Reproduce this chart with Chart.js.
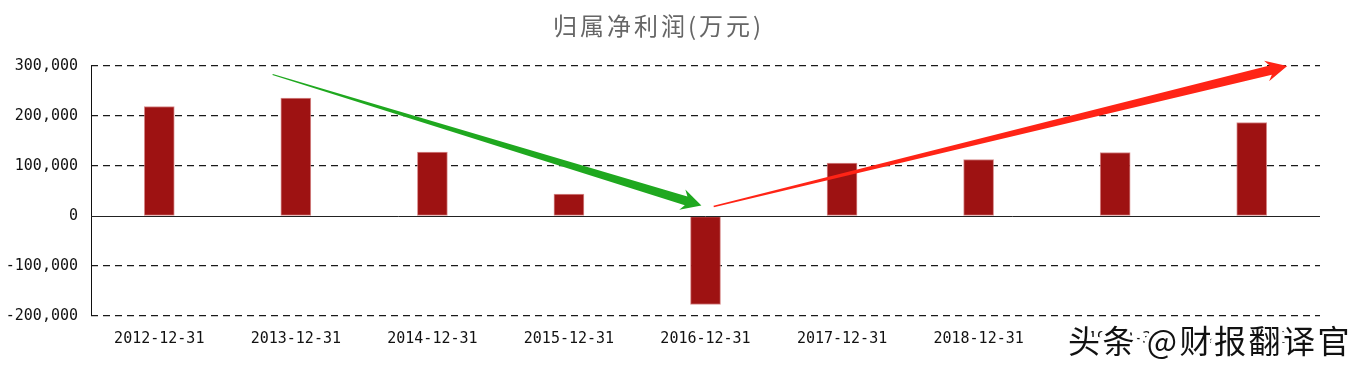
<!DOCTYPE html>
<html>
<head>
<meta charset="utf-8">
<script src="https://cdn.jsdelivr.net/npm/chart.js@4/dist/chart.umd.min.js"></script>
<style>
  html, body { margin: 0; padding: 0; background: #ffffff; }
  #wrap { position: relative; width: 1367px; height: 371px; }
</style>
</head>
<body>
<div id="wrap"><canvas id="c" width="1367" height="371"></canvas></div>
<script>
// ---- data ----
const titleText = '归属净利润(万元)';
const categories = ['2012-12-31', '2013-12-31', '2014-12-31', '2015-12-31', '2016-12-31',
                    '2017-12-31', '2018-12-31', '2019-12-31', '2020-12-31'];
const netProfit = [219000, 236000, 128000, 44000, -177000, 106000, 113000, 127000, 187000];
const yMin = -200000;
const yMax = 300000;
const yStep = 100000;
// trend arrows, in data coordinates: [category index, value]
const greenArrow = [[0.83, 283000], [3.97, 21000]];
const redArrow = [[4.06, 19000], [8.26, 300000]];
const watermarkText = '头条 @财报翻译官';

// ---- drawing helpers ----
function drawArrow(ctx, x0, y0, x1, y1, w0, w1, headLen, headW, color) {
  const dx = x1 - x0, dy = y1 - y0, L = Math.hypot(dx, dy);
  const ux = dx / L, uy = dy / L, nx = -uy, ny = ux;
  const bx = x1 - ux * headLen, by = y1 - uy * headLen;
  const wx = x1 - ux * headLen * 1.25, wy = y1 - uy * headLen * 1.25;
  ctx.save();
  ctx.fillStyle = color;
  ctx.beginPath();
  ctx.moveTo(x0 + nx * w0 / 2, y0 + ny * w0 / 2);
  ctx.lineTo(bx + nx * w1 / 2, by + ny * w1 / 2);
  ctx.lineTo(wx + nx * headW / 2, wy + ny * headW / 2);
  ctx.lineTo(x1, y1);
  ctx.lineTo(wx - nx * headW / 2, wy - ny * headW / 2);
  ctx.lineTo(bx - nx * w1 / 2, by - ny * w1 / 2);
  ctx.lineTo(x0 - nx * w0 / 2, y0 - ny * w0 / 2);
  ctx.closePath();
  ctx.fill();
  ctx.restore();
}

const decor = {
  id: 'decor',
  afterDatasetsDraw(chart) {
    const { ctx, chartArea: a, scales: { x, y } } = chart;
    ctx.save();
    // y axis line
    ctx.strokeStyle = '#111';
    ctx.lineWidth = 1;
    ctx.beginPath();
    const ax = Math.round(a.left) + 0.5;
    ctx.moveTo(ax, y.getPixelForValue(yMax));
    ctx.lineTo(ax, y.getPixelForValue(yMin));
    ctx.stroke();
    // zero line
    const zy = Math.round(y.getPixelForValue(0)) + 0.5;
    ctx.strokeStyle = '#222';
    ctx.beginPath();
    ctx.moveTo(a.left, zy);
    ctx.lineTo(a.right, zy);
    ctx.stroke();
    ctx.restore();
    // arrows
    drawArrow(ctx,
      x.getPixelForValue(greenArrow[0][0]), y.getPixelForValue(greenArrow[0][1]),
      x.getPixelForValue(greenArrow[1][0]), y.getPixelForValue(greenArrow[1][1]),
      1.3, 9, 16, 21, '#1fa81f');
    drawArrow(ctx,
      x.getPixelForValue(redArrow[0][0]), y.getPixelForValue(redArrow[0][1]),
      x.getPixelForValue(redArrow[1][0]), y.getPixelForValue(redArrow[1][1]),
      1.6, 9.5, 17, 21, '#ff2416');
  },
  afterDraw(chart) {
    const { ctx } = chart;
    ctx.save();
    // title
    ctx.font = '24px "Noto Sans CJK SC"';
    ctx.letterSpacing = '3px';
    ctx.fillStyle = '#666666';
    ctx.textAlign = 'left';
    ctx.textBaseline = 'middle';
    ctx.fillText(titleText, 553, 26);
    // watermark
    ctx.font = '32px "Noto Sans CJK SC"';
    ctx.letterSpacing = '2.5px';
    ctx.textAlign = 'left';
    ctx.textBaseline = 'middle';
    ctx.lineJoin = 'round';
    ctx.strokeStyle = '#ffffff';
    ctx.lineWidth = 8;
    ctx.strokeText(watermarkText, 1068, 341);
    ctx.fillStyle = '#111111';
    ctx.fillText(watermarkText, 1068, 341);
    ctx.restore();
  }
};

const tickFont = { family: '"DejaVu Sans Mono"', size: 15 };

new Chart(document.getElementById('c'), {
  type: 'bar',
  data: {
    labels: categories,
    datasets: [{
      label: titleText,
      data: netProfit,
      backgroundColor: '#9e1212',
      borderColor: 'rgba(205,110,110,0.8)',
      borderWidth: 1,
      borderSkipped: false,
      barThickness: 30
    }]
  },
  options: {
    responsive: false,
    animation: false,
    layout: { padding: { left: 0, right: 47, top: 66, bottom: 0 } },
    plugins: {
      legend: { display: false },
      title: { display: false },
      tooltip: { enabled: false }
    },
    scales: {
      x: {
        type: 'category',
        offset: true,
        grid: { display: false, drawTicks: false },
        border: { display: false },
        ticks: { font: tickFont, color: '#111', padding: 14, maxRotation: 0, autoSkip: false },
        afterFit(s) { s.height = 55; }
      },
      y: {
        min: yMin,
        max: yMax,
        grid: {
          drawTicks: false,
          lineWidth: 1.2,
          color: (c) => (c.tick && c.tick.value === 0) ? 'rgba(0,0,0,0)' : '#1a1a1a'
        },
        border: { display: false, dash: [7, 5] },
        ticks: {
          stepSize: yStep,
          font: tickFont,
          color: '#111',
          padding: 13,
          callback: (v) => v.toLocaleString('en-US')
        },
        afterFit(s) { s.width = 91; }
      }
    }
  },
  plugins: [decor]
});
</script>
</body>
</html>
